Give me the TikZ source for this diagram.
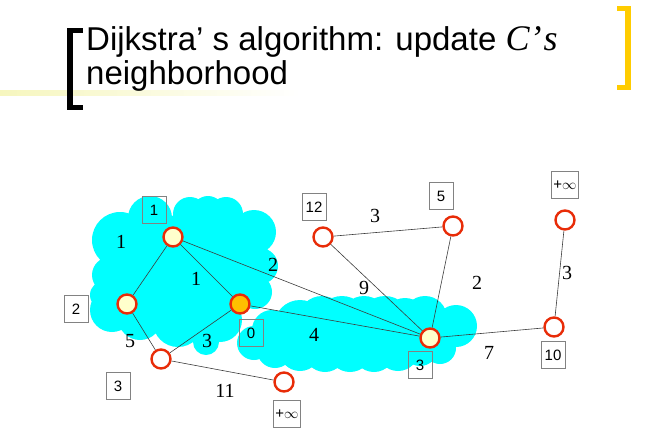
\documentclass[tikz,border=0pt]{standalone}
\usepackage{fontspec}
\setmainfont{Liberation Sans}
\newfontfamily\weightfont{Liberation Serif}
\usetikzlibrary{calc}

\definecolor{ringred}{RGB}{232,44,8}
\definecolor{doneyellow}{RGB}{255,255,204}
\definecolor{sourceorange}{RGB}{255,192,0}
\definecolor{cloudcyan}{RGB}{0,255,255}
\definecolor{bracketgold}{RGB}{255,204,0}
\definecolor{rulecream}{RGB}{246,246,190}
\definecolor{edgegray}{RGB}{60,60,60}
\definecolor{boxgray}{RGB}{130,130,130}

\tikzset{
  vertex/.style={circle, draw=ringred, line width=2.4pt, fill=white,
    minimum size=19pt, inner sep=0pt},
  visited/.style={vertex, fill=doneyellow},
  current/.style={vertex, fill=sourceorange},
  distbox/.style={draw=boxgray, line width=0.6pt, minimum height=27pt,
    minimum width=24pt, inner sep=2pt, font=\fontsize{15}{15}\selectfont},
  weight/.style={font=\weightfont\fontsize{20}{20}\selectfont, inner sep=0pt},
  edge/.style={draw=edgegray, line width=0.6pt},
  titleline/.style={anchor=base west, inner sep=0pt,
    font=\fontsize{33}{33}\selectfont},
}

\begin{document}
\begin{tikzpicture}[x=1pt, y=-1pt]
\useasboundingbox (0,0) rectangle (658,437);

% title rule and brackets
\shade[left color=rulecream, right color=white] (0,90) rectangle (300,95);
\fill[black] (67,28) rectangle (73,110);
\fill[black] (67,28) rectangle (83,33);
\fill[black] (67,105) rectangle (83,110);
\fill[bracketgold] (625,6) rectangle (631,90);
\fill[bracketgold] (617,6) rectangle (631,11);
\fill[bracketgold] (617,85) rectangle (631,90);

\node[titleline] (title1) at (86,50)
  {Dijkstra’ s algorithm: update {\weightfont\itshape\fontsize{36}{36}\selectfont C’\kern2pt s}};
\node[titleline] (title2) at (86,84) {neighborhood};

% explored region around the source: solid core plus scalloped rim
\fill[cloudcyan]
  (150,218) -- (190,214) -- (226,214) -- (254,232) -- (260,266) --
  (255,292) -- (220,320) -- (206,342) -- (178,322) -- (140,318) --
  (112,310) -- (110,275) -- (120,240) -- cycle;
\fill[cloudcyan]
  (120,240) circle (28pt) (150,218) circle (22pt) (190,214) circle (17pt)
  (226,214) circle (17pt) (254,232) circle (22pt) (260,266) circle (18pt)
  (255,292) circle (17pt) (110,275) circle (18pt) (112,310) circle (22pt)
  (140,318) circle (22pt) (178,322) circle (25pt) (206,342) circle (13pt)
  (220,320) circle (22pt) (208,212) circle (16pt) (104,295) circle (14pt);

% region being updated around C
\fill[cloudcyan]
  (254,343) -- (272,330) -- (300,326) -- (342,322) -- (385,322) --
  (425,318) -- (456,326) -- (440,348) -- (398,350) -- (350,350) --
  (300,350) -- cycle;
\fill[cloudcyan]
  (254,343) circle (17pt) (272,330) circle (20pt) (300,326) circle (26pt)
  (342,322) circle (26pt) (385,322) circle (26pt) (425,318) circle (22pt)
  (456,326) circle (21pt) (300,350) circle (21pt) (350,350) circle (22pt)
  (398,350) circle (21pt) (440,348) circle (16pt)
  (322,320) circle (24pt) (364,320) circle (24pt) (405,320) circle (22pt)
  (325,351) circle (21pt) (374,351) circle (21pt) (420,348) circle (18pt)
  (275,350) circle (18pt);

% vertices
\node[visited] (a) at (173,237) {};
\node[visited] (b) at (127,304) {};
\node[current] (s) at (240,304) {};
\node[vertex]  (d) at (161,359) {};
\node[vertex]  (e) at (284,382) {};
\node[vertex]  (f) at (323,237) {};
\node[vertex]  (g) at (453,226) {};
\node[visited] (c) at (430,338) {};
\node[vertex]  (h) at (554,327) {};
\node[vertex]  (i) at (565,220) {};

% edges
\draw[edge] (a) -- (b);
\draw[edge] (a) -- (s);
\draw[edge] (a) -- (c);
\draw[edge] (b) -- (d);
\draw[edge] (s) -- (d);
\draw[edge] (s) -- (c);
\draw[edge] (d) -- (e);
\draw[edge] (f) -- (g);
\draw[edge] (f) -- (c);
\draw[edge] (g) -- (c);
\draw[edge] (c) -- (h);
\draw[edge] (h) -- (i);

% edge weights
\node[weight] (w1) at (121,242) {1};
\node[weight] (w2) at (196,279) {1};
\node[weight] (w3) at (273,265) {2};
\node[weight] (w4) at (364,288) {9};
\node[weight] (w5) at (314,335) {4};
\node[weight] (w6) at (207,341) {3};
\node[weight] (w7) at (130,341) {5};
\node[weight] (w8) at (225,391) {11};
\node[weight] (w9) at (375,216) {3};
\node[weight] (w10) at (477,283) {2};
\node[weight] (w11) at (489,353) {7};
\node[weight] (w12) at (567,273) {3};

% tentative distances
\node[distbox] (da) at (154,210) {1};
\node[distbox] (db) at (76,309) {2};
\node[distbox] (ds) at (251,333) {0};
\node[distbox] (dd) at (118,386) {3};
\node[distbox] (de) at (287,414) {+$\infty$};
\node[distbox] (df) at (314,207) {12};
\node[distbox] (dg) at (441,196) {5};
\node[distbox] (dc) at (420,365) {3};
\node[distbox] (dh) at (553,355) {10};
\node[distbox] (di) at (565,185) {+$\infty$};
\end{tikzpicture}
\end{document}
